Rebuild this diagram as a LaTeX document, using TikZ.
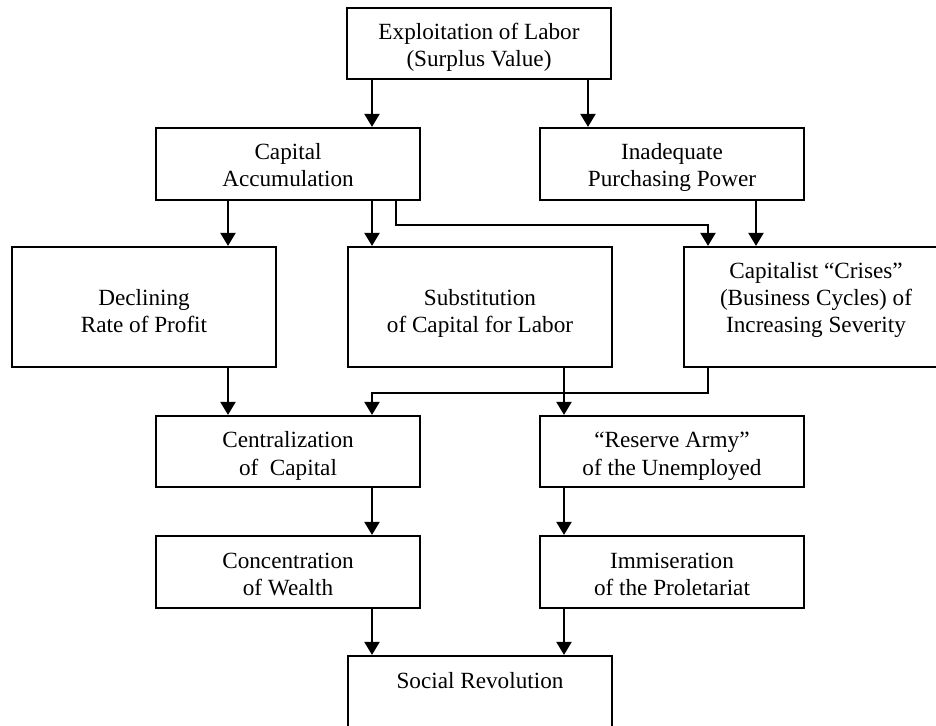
\documentclass[tikz,border=0pt]{standalone}
\usepackage{fontspec}
\setmainfont{Liberation Serif}
\usetikzlibrary{arrows.meta}

\begin{document}
\begin{tikzpicture}[->,>={Triangle[length=6.5pt,width=7.5pt]},x=0.5pt,y=0.5pt,
  line width=1.1pt,main node/.style={draw,rectangle,inner sep=0pt,text width=132pt,
  align=flush center,text height=16pt,text depth=20pt,font=\fontsize{11.6pt}{13.5pt}\selectfont},
  tall node/.style={text height=29.5pt,text depth=30.5pt}]
\useasboundingbox (0,0) rectangle (936,-726);
\node[main node,text depth=19.5pt] (1) at (479,-43.5) {Exploitation of Labor\\(Surplus Value)};
\node[main node] (2) at (288,-164) {Capital\\Accumulation};
\node[main node] (3) at (672,-164) {Inadequate\\Purchasing Power};
\node[main node,tall node] (4) at (144,-307) {Declining\\Rate of Profit};
\node[main node,tall node] (5) at (480,-307) {Substitution\\of Capital for Labor};
\node[main node,text depth=44pt] (6) at (816,-307) {Capitalist “Crises”\\(Business Cycles) of\\Increasing Severity};
\node[main node,text depth=19.5pt] (7) at (288,-451.5) {Centralization\\of~~Capital};
\node[main node,text depth=19.5pt] (8) at (672,-451.5) {“Reserve Army”\\of the Unemployed};
\node[main node] (9) at (288,-572) {Concentration\\of Wealth};
\node[main node] (10) at (672,-572) {Immiseration\\of the Proletariat};
\node[main node,text depth=34pt] (11) at (480,-706) {Social Revolution};
\coordinate (x1) at (228,0);
\coordinate (x2) at (372,0);
\coordinate (x3) at (396,0);
\coordinate (x4) at (564,0);
\coordinate (x5) at (588,0);
\coordinate (x6) at (708,0);
\coordinate (x7) at (756,0);
\draw (x2 |- 1.south) -- (x2 |- 2.north);
\draw (x5 |- 1.south) -- (x5 |- 3.north);
\draw (x1 |- 2.south) -- (x1 |- 4.north);
\draw (x2 |- 2.south) -- (x2 |- 5.north);
\draw (x3 |- 2.south) -- ++(0,-24) -| (x6 |- 6.north);
\draw (x7 |- 3.south) -- (x7 |- 6.north);
\draw (x1 |- 4.south) -- (x1 |- 7.north);
\draw (x4 |- 5.south) -- (x4 |- 8.north);
\draw (x6 |- 6.south) -- ++(0,-25) -| (x2 |- 7.north);
\draw (x2 |- 7.south) -- (x2 |- 9.north);
\draw (x4 |- 8.south) -- (x4 |- 10.north);
\draw (x2 |- 9.south) -- (x2 |- 11.north);
\draw (x4 |- 10.south) -- (x4 |- 11.north);
\end{tikzpicture}
\end{document}
